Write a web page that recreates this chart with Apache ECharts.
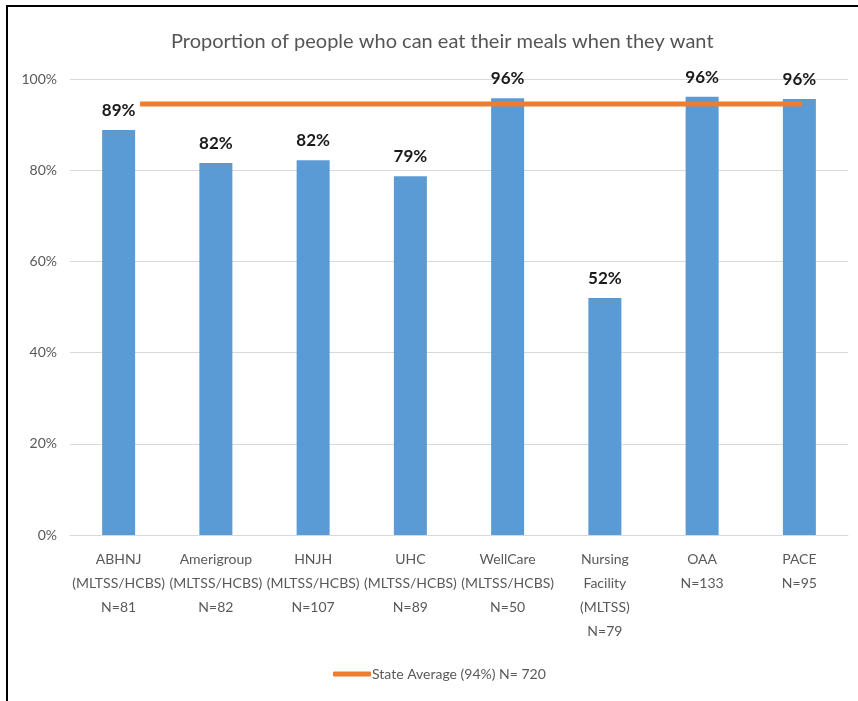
<!DOCTYPE html>
<html>
<head>
<meta charset="utf-8">
<script src="https://cdn.jsdelivr.net/npm/echarts@6/dist/echarts.min.js"></script>
<style>
html,body{margin:0;padding:0;background:#fff;}
#chart{width:858px;height:701px;}
</style>
</head>
<body>
<div id="chart"></div>
<script>
var categories = [
  'ABHNJ\n(MLTSS/HCBS)\nN=81',
  'Amerigroup\n(MLTSS/HCBS)\nN=82',
  'HNJH\n(MLTSS/HCBS)\nN=107',
  'UHC\n(MLTSS/HCBS)\nN=89',
  'WellCare\n(MLTSS/HCBS)\nN=50',
  'Nursing\nFacility\n(MLTSS)\nN=79',
  'OAA\nN=133',
  'PACE\nN=95'
];
var proportionValues = [88.8, 81.6, 82.2, 78.7, 95.8, 52.0, 96.1, 95.6];
var stateAverageValues = [94.5, 94.5, 94.5, 94.5, 94.5, 94.5, 94.5, 94.5];
var yTicks = [0, 20, 40, 60, 80, 100];
var seriesNames = ['Proportion', 'State Average (94%) N= 720'];
var titleText = 'Proportion of people who can eat their meals when they want';

var FONT = 'Lato, "Open Sans", sans-serif';
var chart = echarts.init(document.getElementById('chart'), null, {renderer: 'canvas'});
chart.setOption({
  animation: false,
  backgroundColor: '#ffffff',
  textStyle: {fontFamily: FONT},
  title: {
    text: titleText,
    left: 166,
    top: 27,
    textStyle: {fontFamily: FONT, fontSize: 20, fontWeight: 'normal', color: '#555555'}
  },
  graphic: [
    {type: 'line', shape: {x1: 6, y1: 6, x2: 858, y2: 6}, style: {stroke: '#000', lineWidth: 2}},
    {type: 'line', shape: {x1: 7, y1: 5, x2: 7, y2: 701}, style: {stroke: '#000', lineWidth: 2}}
  ],
  legend: {
    data: [seriesNames[1]],
    left: 328,
    top: 662,
    icon: 'roundRect',
    itemWidth: 38,
    itemHeight: 5,
    textStyle: {fontFamily: FONT, fontSize: 14, color: '#595959', padding: [0,0,0,-4]}
  },
  grid: [
    {left: 70, right: 10, top: 79, bottom: 166},
    {left: 140, right: 56, top: 79, bottom: 166}
  ],
  xAxis: [
    {
      type: 'category', gridIndex: 0, data: categories,
      axisLine: {lineStyle: {color: '#D9D9D9', width: 1}},
      axisTick: {show: false},
      axisLabel: {interval: 0, color: '#595959', fontSize: 14, lineHeight: 24, margin: 12, fontFamily: FONT}
    },
    {
      type: 'category', gridIndex: 1, data: categories, boundaryGap: false, show: false
    }
  ],
  yAxis: [
    {
      type: 'value', gridIndex: 0, min: 0, max: 100, interval: 20,
      axisLabel: {formatter: function(v){ return yTicks.indexOf(v) >= 0 ? v + '%' : ''; }, color: '#595959', fontSize: 14, margin: 13, fontFamily: FONT},
      splitLine: {lineStyle: {color: '#D9D9D9', width: 1}},
      axisLine: {show: false}, axisTick: {show: false}
    },
    {type: 'value', gridIndex: 1, min: 0, max: 100, show: false, splitLine: {show: false}}
  ],
  series: [
    {
      name: seriesNames[0], type: 'bar', xAxisIndex: 0, yAxisIndex: 0,
      data: proportionValues, barWidth: 33,
      itemStyle: {color: '#5B9BD5'},
      label: {
        show: true, position: 'top', distance: 11,
        formatter: function(p){ return Math.round(p.value) + '%'; },
        fontFamily: FONT, fontSize: 17, fontWeight: 'bold', color: '#1a1a1a'
      }
    },
    {
      name: seriesNames[1], type: 'line', xAxisIndex: 1, yAxisIndex: 1,
      data: stateAverageValues, showSymbol: false, symbol: 'none',
      lineStyle: {color: '#ED7D31', width: 5},
      itemStyle: {color: '#ED7D31'},
      z: 5
    }
  ]
});
</script>
</body>
</html>
